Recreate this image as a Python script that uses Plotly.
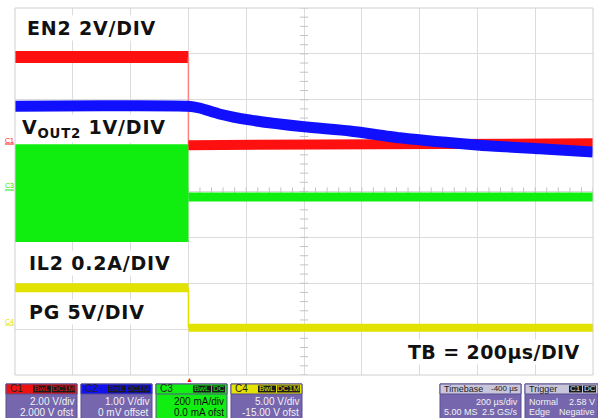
import numpy as np
import plotly.graph_objects as go

W, H = 598, 418
ML, MR, MT, MB = 15, 5, 8, 43
PW, PH = W - ML - MR, H - MT - MB

# ---- data (time in µs relative to trigger, amplitude in screen divisions) ----
en2_t_high = [-600, 0]
en2_v_high = [2.93, 2.93]
en2_t_low = [0, 1400]
en2_v_low = [1.01, 1.05]

vout_t = [-600, -300, 0, 38, 107, 211, 400, 559, 732, 1009, 1216, 1400]
vout_v = [1.86, 1.87, 1.86, 1.82, 1.69, 1.56, 1.41, 1.32, 1.17, 1.01, 0.93, 0.86]

il2_t_sw = [-600, 0]
il2_v_sw_top = [1.01, 1.01]
il2_v_sw_bot = [-1.08, -1.08]
il2_t_off = [0, 1400]
il2_v_off = [-0.12, -0.12]

pg_t_high = [-600, 0]
pg_v_high = [-2.10, -2.10]
pg_t_low = [0, 1400]
pg_v_low = [-2.97, -2.97]

RED, BLUE, GREEN, YELLOW = "#ff1010", "#1010ff", "#10ee10", "#e2e200"


def px(xp):
    return (xp - ML) / PW


def py(yp):
    return (H - MB - yp) / PH


fig = go.Figure()

# centre-line ticks (graticule decoration)
tx = np.arange(-600, 1401, 40)
ty = np.arange(-4, 4.01, 0.2)
fig.add_trace(go.Scatter(x=tx, y=[0] * len(tx), mode="markers",
                         marker=dict(symbol="line-ns", size=6, line=dict(color="#c4c4c4", width=1)),
                         hoverinfo="skip", showlegend=False))
fig.add_trace(go.Scatter(x=[400] * len(ty), y=ty, mode="markers",
                         marker=dict(symbol="line-ew", size=6, line=dict(color="#c4c4c4", width=1)),
                         hoverinfo="skip", showlegend=False))

# PG (yellow)
fig.add_trace(go.Scatter(x=pg_t_high, y=pg_v_high, mode="lines", line=dict(color=YELLOW, width=9), showlegend=False))
fig.add_trace(go.Scatter(x=[pg_t_high[-1], pg_t_low[0]], y=[pg_v_high[-1], pg_v_low[0]], mode="lines",
                         line=dict(color=YELLOW, width=1.5), showlegend=False))
fig.add_trace(go.Scatter(x=pg_t_low, y=pg_v_low, mode="lines", line=dict(color=YELLOW, width=8), showlegend=False))

# IL2 (green)
fig.add_trace(go.Scatter(x=il2_t_sw, y=il2_v_sw_bot, mode="lines", line=dict(color=GREEN, width=2), showlegend=False))
fig.add_trace(go.Scatter(x=il2_t_sw, y=il2_v_sw_top, mode="lines", line=dict(color=GREEN, width=2),
                         fill="tonexty", fillcolor=GREEN, showlegend=False))
fig.add_trace(go.Scatter(x=il2_t_off, y=il2_v_off, mode="lines", line=dict(color=GREEN, width=9), showlegend=False))

# EN2 (red)
fig.add_trace(go.Scatter(x=en2_t_high, y=en2_v_high, mode="lines", line=dict(color=RED, width=12), showlegend=False))
fig.add_trace(go.Scatter(x=[en2_t_high[-1], en2_t_low[0]], y=[en2_v_high[-1], en2_v_low[0]], mode="lines",
                         line=dict(color="#ff8080", width=1.5), showlegend=False))
fig.add_trace(go.Scatter(x=en2_t_low, y=en2_v_low, mode="lines", line=dict(color=RED, width=10), showlegend=False))

# VOUT2 (blue)
fig.add_trace(go.Scatter(x=vout_t, y=vout_v, mode="lines", line=dict(color=BLUE, width=11, shape="spline", smoothing=0.6),
                         showlegend=False))

shapes = []
annotations = []


def ann(text, xp, yp, size, color, family="Liberation Sans", xanchor="center", **kw):
    d = dict(text=text, xref="paper", yref="paper", x=px(xp), y=py(yp), xanchor=xanchor, yanchor="middle",
             showarrow=False, font=dict(family=family, size=size, color=color))
    d.update(kw)
    annotations.append(d)


def label(text, xl, yc, size=19, ls=0.8):
    ann("<b><span style='letter-spacing:%.1fpx'>%s</span></b>" % (ls, text), xl, yc, size, "#111111",
        family="DejaVu Sans", xanchor="left", bgcolor="white", borderpad=1)


label("EN2 2V/DIV", 25, 28)
label("V<sub>OUT2</sub> 1V/DIV", 20, 128)
label("IL2 0.2A/DIV", 27, 263)
label("PG 5V/DIV", 27, 312)
label("TB = 200µs/DIV", 406, 352, ls=0.4)

# channel markers on the left
for txt, col, yp in [("C1", RED, 140), ("C3", GREEN, 186), ("C4", YELLOW, 321)]:
    ann(txt, 9, yp, 7, col)
    shapes.append(dict(type="line", xref="paper", yref="paper", x0=px(5), x1=px(14), y0=py(yp + 4), y1=py(yp + 4),
                       line=dict(color=col, width=1)))

# trigger marker
ann("▲", 189, 379, 7, RED)

# plot border
shapes.append(dict(type="rect", xref="paper", yref="paper", x0=0, x1=1, y0=0, y1=1,
                   line=dict(color="#cfcfcf", width=1)))

# ---- bottom info boxes ----
PURPLE = "#7566ad"
PBORDER = "#5b4f92"


def box(x0, x1, head_col, head_txt, tags, line1, line2, body_col=PURPLE, text_col="#f2f2f2",
        head_txt_col="#222222", tag_txt_col=None, head_right=None, fs=10):
    y0, y1, yh = 384, 420, 394
    shapes.append(dict(type="rect", xref="paper", yref="paper", x0=px(x0), x1=px(x1), y0=py(y1), y1=py(y0),
                       fillcolor=body_col, line=dict(color=PBORDER, width=1), layer="above"))
    shapes.append(dict(type="rect", xref="paper", yref="paper", x0=px(x0), x1=px(x1), y0=py(yh), y1=py(y0),
                       fillcolor=head_col, line=dict(color=PBORDER, width=1), layer="above"))
    ann(head_txt, x0 + 2, 389, fs, head_txt_col, xanchor="left")
    if head_right:
        ann(head_right, x1 - 1, 389, fs - 1, head_txt_col, xanchor="right")
    xr = x1 - 2
    for tg in reversed(tags):
        wdt = 5 * len(tg) + 3
        shapes.append(dict(type="rect", xref="paper", yref="paper", x0=px(xr - wdt), x1=px(xr), y0=py(392.5),
                           y1=py(385.5), fillcolor="#1a1a1a", line=dict(width=0), layer="above"))
        ann(tg, xr - wdt / 2, 389, 8, tag_txt_col or head_col)
        xr -= wdt + 1
    for txt, yy in [(line1, 401.5), (line2, 412)]:
        if isinstance(txt, tuple):
            ann(txt[0], x0 + 2, yy, fs, text_col, xanchor="left")
            ann(txt[1], x1 - 1, yy, fs, text_col, xanchor="right")
        else:
            ann(txt, x1 - 1, yy, fs, text_col, xanchor="right")


box(6, 77, "#ee1111", "C1", ["BwL", "DC1M"], "2.00 V/div", "2.000 V ofst")
box(81, 152, "#1111ee", "C2", ["BwL", "DC1M"], "1.00 V/div", "0 mV offset")
box(156, 227, "#11ee11", "C3", ["BwL", "DC"], "200 mA/div", "0.0 mA ofst", body_col="#11ee11",
    text_col="#111111")
box(231, 302, "#e4e400", "C4", ["BwL", "DC1M"], "5.00 V/div", "-15.00 V ofst")
box(440, 521, "#c9c6dc", "Timebase", [], "200 µs/div", ("5.00 MS", "2.5 GS/s"), head_right="-400 µs", fs=9)
box(525, 598, "#c9c6dc", "Trigger", ["C1", "DC"], ("Normal", "2.58 V"), ("Edge", "Negative"),
    tag_txt_col="#e0e0e0", fs=9)

fig.update_layout(
    width=W, height=H, margin=dict(l=ML, r=MR, t=MT, b=MB),
    paper_bgcolor="white", plot_bgcolor="white",
    xaxis=dict(range=[-600, 1400], dtick=200, showgrid=True, gridcolor="#dcdcdc", gridwidth=1,
               zeroline=False, showticklabels=False, ticks="", fixedrange=True),
    yaxis=dict(range=[-4, 4], dtick=1, showgrid=True, gridcolor="#dcdcdc", gridwidth=1,
               zeroline=False, showticklabels=False, ticks="", fixedrange=True),
    shapes=shapes, annotations=annotations, showlegend=False,
)

fig.write_html("out.html", config={"displayModeBar": False},
               post_script="document.body.style.margin='0';document.body.style.overflow='hidden';")
